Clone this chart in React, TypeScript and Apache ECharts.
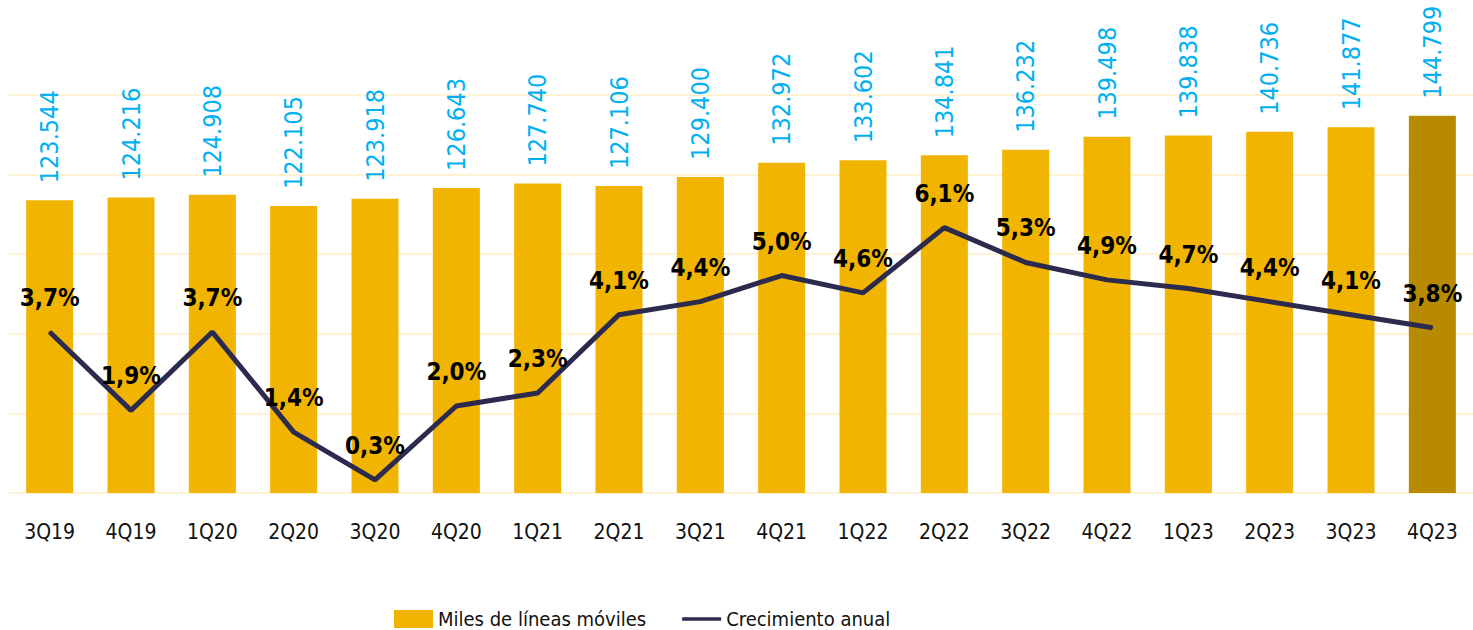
import React, { useEffect, useRef } from "react";
import * as echarts from "echarts";

const categories = ["3Q19","4Q19","1Q20","2Q20","3Q20","4Q20","1Q21","2Q21","3Q21","4Q21","1Q22","2Q22","3Q22","4Q22","1Q23","2Q23","3Q23","4Q23"];
const lineas = [123544,124216,124908,122105,123918,126643,127740,127106,129400,132972,133602,134841,136232,139498,139838,140736,141877,144799];
const crecimiento = [3.7,1.9,3.7,1.4,0.3,2.0,2.3,4.1,4.4,5.0,4.6,6.1,5.3,4.9,4.7,4.4,4.1,3.8];

const FONT = "'DejaVu Sans Condensed', 'Liberation Sans Narrow', 'Roboto', sans-serif";
const BAR = "#F1B400";
const BAR_LAST = "#B88A00";
const LINE = "#2C2B4E";

function fmtThousands(v: number): string {
  return String(v).replace(/\B(?=(\d{3})+(?!\d))/g, ".");
}

export default function App() {
  const ref = useRef<HTMLDivElement>(null);
  useEffect(() => {
    if (!ref.current) return;
    const chart = echarts.init(ref.current, null, { renderer: "svg" });
    chart.setOption({
      animation: false,
      backgroundColor: "#ffffff",
      textStyle: { fontFamily: FONT },
      grid: { left: 9, right: -10, top: 95, bottom: 137, containLabel: false },
      legend: {
        top: 604,
        left: 389,
        itemWidth: 39,
        itemHeight: 18,
        itemGap: 36,
        textStyle: { fontFamily: FONT, fontSize: 20, color: "#111" },
        data: [
          { name: "Miles de líneas móviles", icon: "rect" },
          { name: "Crecimiento anual", icon: "path://M0,0L42,0L42,4L0,4Z" },
        ],
      },
      xAxis: {
        type: "category",
        data: categories,
        axisLine: { show: false },
        axisTick: { show: false },
        axisLabel: { interval: 0, fontFamily: FONT, fontSize: 21, color: "#111", margin: 28 },
      },
      yAxis: [
        {
          type: "value",
          min: 50000,
          max: 150000,
          show: false,
          splitLine: { show: false },
        },
        {
          type: "value",
          min: 0,
          max: 9.15,
          interval: 1.83,
          axisLabel: { show: false },
          axisLine: { show: false },
          axisTick: { show: false },
          splitLine: { show: true, lineStyle: { color: "#FFF3D3", width: 2 } },
        },
      ],
      series: [
        {
          name: "Miles de líneas móviles",
          type: "bar",
          yAxisIndex: 0,
          barWidth: 47,
          itemStyle: { color: BAR },
          data: lineas.map((v, i) =>
            i === lineas.length - 1 ? { value: v, itemStyle: { color: BAR_LAST } } : v
          ),
          label: {
            show: true,
            position: "top",
            rotate: 90,
            align: "left",
            verticalAlign: "middle",
            distance: 16,
            fontFamily: FONT,
            fontSize: 25,
            color: "#00B0F0",
            offset: [1, 0],
            formatter: (p: any) => fmtThousands(p.value),
          },
          z: 2,
        },
        {
          name: "Crecimiento anual",
          type: "line",
          yAxisIndex: 1,
          data: crecimiento,
          symbol: "circle",
          symbolSize: 2,
          showSymbol: true,
          lineStyle: { color: LINE, width: 5 },
          itemStyle: { color: LINE },
          label: {
            show: true,
            position: "top",
            distance: 21,
            fontFamily: FONT,
            fontSize: 24,
            fontWeight: "bold",
            color: "#000",
            formatter: (p: any) => p.value.toFixed(1).replace(".", ",") + "%",
          },
          labelLayout: { hideOverlap: false },
          z: 3,
        },
      ],
    });
    return () => chart.dispose();
  }, []);
  return (
    <div
      ref={ref}
      style={{ position: "fixed", left: 0, top: 0, width: 1473, height: 630 }}
    />
  );
}
